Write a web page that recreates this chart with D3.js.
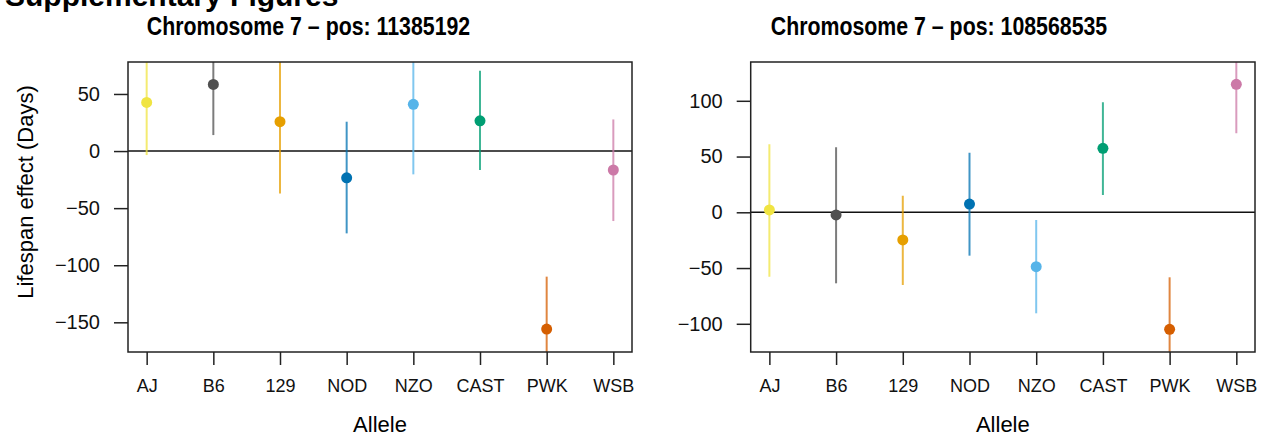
<!DOCTYPE html>
<html>
<head>
<meta charset="utf-8">
<script src="https://cdn.jsdelivr.net/npm/d3@7"></script>
<style>
  body { margin: 0; background: #fff; }
  svg { font-family: "Liberation Sans", Arial, Helvetica, sans-serif; }
</style>
</head>
<body>
<svg id="chart" width="1266" height="436"></svg>
<script>
// alleles and their colours (same order in both panels)
const alleles = ["AJ", "B6", "129", "NOD", "NZO", "CAST", "PWK", "WSB"];
const alleleColors = ["#F0E442", "#505050", "#E69F00", "#0072B2", "#56B4E9", "#009E73", "#D55E00", "#CC79A7"];

// chromosome 7, pos 11385192
const leftTitle = "Chromosome 7 \u2013 pos: 11385192";
const leftEffect = [42.6, 58.4, 25.7, -23.4, 40.9, 26.5, -155.9, -16.6];
const leftLower = [-3.5, 14.0, -37.1, -72.1, -20.4, -16.6, -201.8, -61.3];
const leftUpper = [88.7, 102.8, 88.5, 25.7, 102.0, 70.3, -110.0, 27.7];
const leftTicks = [-150, -100, -50, 0, 50];
const leftDomain = [-176, 78];

// chromosome 7, pos 108568535
const rightTitle = "Chromosome 7 \u2013 pos: 108568535";
const rightEffect = [2.1, -2.4, -24.8, 7.4, -48.8, 57.4, -105.0, 114.8];
const rightLower = [-57.8, -63.7, -65.2, -38.9, -90.6, 15.5, -151.7, 70.9];
const rightUpper = [61.0, 58.3, 14.9, 53.5, -6.9, 98.7, -58.3, 158.0];
const rightTicks = [-100, -50, 0, 50, 100];
const rightDomain = [-125.3, 134.8];

let svg = d3.select("#chart");

svg.append("text")
  .attr("x", 5)
  .attr("y", 6)
  .attr("font-size", 30)
  .attr("font-weight", "bold")
  .text("Supplementary Figures");

function drawPanel(id, x0, x1, title, titleX, effect, lower, upper, ticks, domain, ylab) {
  let top = 62, bottom = 352;

  let xax = d3.scalePoint()
    .domain(alleles)
    .range([x0, x1])
    .padding(0.28);

  let yax = d3.scaleLinear()
    .domain(domain)
    .range([bottom, top]);

  let g = svg.append("g").attr("id", id);

  g.append("clipPath")
    .attr("id", id + "-clip")
    .append("rect")
      .attr("x", x0)
      .attr("y", top)
      .attr("width", x1 - x0)
      .attr("height", bottom - top);

  // y axis
  let ya = g.append("g")
    .attr("transform", `translate(${x0},0)`)
    .call(d3.axisLeft(yax).tickValues(ticks).tickSize(14).tickPadding(14)
      .tickFormat(d => d < 0 ? "\u2212" + Math.abs(d) : d));
  ya.select(".domain").remove();
  ya.selectAll("line").attr("stroke", "#222").attr("stroke-width", 1.5);
  ya.selectAll("text").attr("font-size", 20).attr("fill", "#111").attr("font-family", null);

  // x axis
  let xa = g.append("g")
    .attr("transform", `translate(0,${bottom})`)
    .call(d3.axisBottom(xax).tickSize(13).tickPadding(14));
  xa.select(".domain").remove();
  xa.selectAll("line").attr("stroke", "#222").attr("stroke-width", 1.5);
  xa.selectAll("text").attr("font-size", 18).attr("fill", "#111").attr("font-family", null);

  // zero line
  g.append("line")
    .attr("x1", x0).attr("x2", x1)
    .attr("y1", yax(0)).attr("y2", yax(0))
    .attr("stroke", "#111")
    .attr("stroke-width", 1.5);

  let marks = g.append("g").attr("clip-path", `url(#${id}-clip)`);

  marks.selectAll("line.ci")
    .data(alleles)
    .join("line")
      .attr("class", "ci")
      .attr("x1", d => xax(d)).attr("x2", d => xax(d))
      .attr("y1", (d, i) => yax(lower[i]))
      .attr("y2", (d, i) => yax(upper[i]))
      .attr("stroke", (d, i) => alleleColors[i])
      .attr("stroke-opacity", 0.75)
      .attr("stroke-width", 2);

  marks.selectAll("circle")
    .data(alleles)
    .join("circle")
      .attr("cx", d => xax(d))
      .attr("cy", (d, i) => yax(effect[i]))
      .attr("r", 5.5)
      .attr("fill", (d, i) => alleleColors[i]);

  // box
  g.append("rect")
    .attr("x", x0).attr("y", top)
    .attr("width", x1 - x0).attr("height", bottom - top)
    .attr("fill", "none")
    .attr("stroke", "#222")
    .attr("stroke-width", 1.5);

  // narrow bold title
  g.append("text")
    .attr("transform", `translate(${titleX},35) scale(0.82,1)`)
    .attr("text-anchor", "middle")
    .attr("font-size", 26)
    .attr("font-weight", "bold")
    .text(title);

  g.append("text")
    .attr("x", (x0 + x1) / 2)
    .attr("y", 432)
    .attr("text-anchor", "middle")
    .attr("font-size", 22)
    .text("Allele");

  if (ylab) {
    g.append("text")
      .attr("transform", "translate(33,192) rotate(-90)")
      .attr("text-anchor", "middle")
      .attr("font-size", 22)
      .text(ylab);
  }
}

drawPanel("left", 128, 632, leftTitle, 308.5, leftEffect, leftLower, leftUpper, leftTicks, leftDomain, "Lifespan effect (Days)");
drawPanel("right", 750.7, 1255, rightTitle, 939, rightEffect, rightLower, rightUpper, rightTicks, rightDomain, null);
</script>
</body>
</html>
